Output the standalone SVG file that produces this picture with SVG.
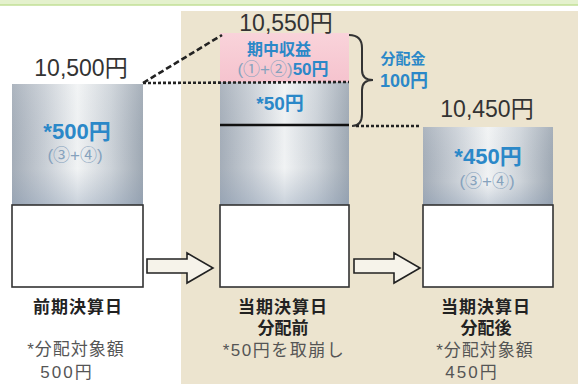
<svg xmlns="http://www.w3.org/2000/svg" width="578" height="384" viewBox="0 0 578 384">
<defs>
<linearGradient id="metal" x1="0" y1="0" x2="1" y2="0">
<stop offset="0" stop-color="#a4adb8"/>
<stop offset="0.25" stop-color="#c8ced5"/>
<stop offset="0.5" stop-color="#f1f3f4"/>
<stop offset="0.75" stop-color="#cdd3d9"/>
<stop offset="1" stop-color="#9ea8b3"/>
</linearGradient>
<linearGradient id="shade" x1="0" y1="0" x2="0" y2="1">
<stop offset="0" stop-color="#ffffff" stop-opacity="0.1"/>
<stop offset="0.7" stop-color="#8a9ab0" stop-opacity="0"/>
<stop offset="1" stop-color="#7f93ad" stop-opacity="0.35"/>
</linearGradient>
<linearGradient id="pink" x1="0" y1="0" x2="0" y2="1">
<stop offset="0" stop-color="#f9d3da"/>
<stop offset="1" stop-color="#f5c3ce"/>
</linearGradient>
<style>
.t{font-family:"Liberation Sans","Noto Sans CJK JP",sans-serif;text-anchor:middle}
.amt{font-size:23px;fill:#333}
.blue{fill:#2b88c8;font-weight:bold}
.circ{fill:#86a2bd;font-weight:normal}
.lab{font-size:17px;font-weight:bold;fill:#222}
.note{font-size:17px;fill:#555}
.box{fill:#fff;stroke:#333;stroke-width:1.6}
.arrow{fill:#f6f3ea;stroke:#222;stroke-width:1.6;stroke-linejoin:miter}
.dot{stroke:#222;stroke-width:2.6;stroke-dasharray:3 2;fill:none}
</style>
</defs>
<rect width="578" height="384" fill="#ffffff"/>
<rect x="0" y="0" width="578" height="5" fill="#e4f1cd"/>
<line x1="0" y1="5" x2="578" y2="5" stroke="#c2df96" stroke-width="1.5"/>
<rect x="181" y="11" width="397" height="373" fill="#ece4cf"/>

<g id="bar-prev">
<rect x="12" y="84" width="131" height="121" fill="url(#metal)"/>
<rect x="12" y="84" width="131" height="121" fill="url(#shade)"/>
<rect class="box" x="12" y="205" width="131" height="82"/>
<text class="t amt" x="81" y="76">10,500円</text>
<text class="t blue" x="77" y="139" font-size="22">*500円</text>
<text class="t circ" x="75" y="161" font-size="17">(③+④)</text>
<text class="t lab" x="78" y="313" letter-spacing="1">前期決算日</text>
<text class="t note" x="76" y="355" letter-spacing="1">*分配対象額</text>
<text class="t note" x="67" y="378" letter-spacing="2">500円</text>
</g>

<g id="bar-before">
<rect x="220" y="33" width="129" height="49" fill="url(#pink)"/>
<rect x="220" y="82" width="129" height="123" fill="url(#metal)"/>
<rect x="220" y="82" width="129" height="123" fill="url(#shade)"/>
<rect class="box" x="220" y="205" width="129" height="82"/>
<line x1="220" y1="125" x2="349" y2="125" stroke="#111" stroke-width="2.6"/>
<text class="t amt" x="286" y="31">10,550円</text>
<text class="t blue" x="279" y="55" font-size="16">期中収益</text>
<text class="t" x="283" y="75" font-size="17"><tspan class="circ">(①+②)</tspan><tspan class="blue">50円</tspan></text>
<text class="t blue" x="280" y="110" font-size="19">*50円</text>
<text class="t lab" x="283" y="313" letter-spacing="1">当期決算日</text>
<text class="t lab" x="283" y="334">分配前</text>
<text class="t note" x="284" y="356" letter-spacing="1.5">*50円を取崩し</text>
</g>

<g id="bar-after">
<rect x="423" y="127" width="130" height="78" fill="url(#metal)"/>
<rect x="423" y="127" width="130" height="78" fill="url(#shade)"/>
<rect class="box" x="423" y="205" width="130" height="82"/>
<text class="t amt" x="487" y="117">10,450円</text>
<text class="t blue" x="488" y="164" font-size="22">*450円</text>
<text class="t circ" x="487" y="187" font-size="17">(③+④)</text>
<text class="t lab" x="486" y="313" letter-spacing="1">当期決算日</text>
<text class="t lab" x="486" y="334">分配後</text>
<text class="t note" x="485" y="356" letter-spacing="1">*分配対象額</text>
<text class="t note" x="472" y="378" letter-spacing="2">450円</text>
</g>

<g id="distribution">
<path d="M349 35 Q362 35 362 48 L362 70 Q362 80 373 80 Q362 80 362 90 L362 114 Q362 126 352 126" fill="none" stroke="#333" stroke-width="2"/>
<text class="t blue" x="403" y="64" font-size="15">分配金</text>
<text class="t blue" x="404" y="87" font-size="18">100円</text>
</g>

<g id="connectors">
<line class="dot" x1="143" y1="83" x2="349" y2="82"/>
<line x1="143" y1="83" x2="222" y2="35" stroke="#222" stroke-width="2.6" stroke-dasharray="6 3"/>
<line class="dot" x1="356" y1="126" x2="421" y2="126"/>
<path class="arrow" d="M147 259 L187 259 L187 253 L213 268 L187 283 L187 273 L147 273 Z"/>
<path class="arrow" d="M354 259 L394 259 L394 253 L420 268 L394 283 L394 273 L354 273 Z"/>
</g>
</svg>
